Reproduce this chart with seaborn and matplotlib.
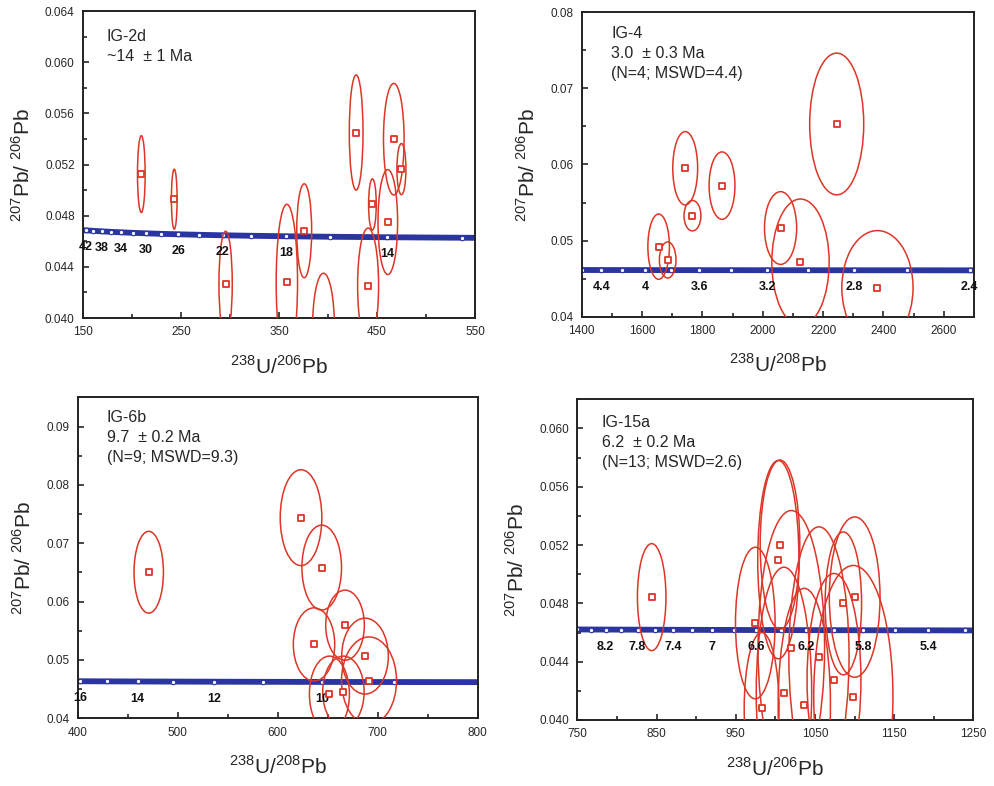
import numpy as np
import pandas as pd
import seaborn as sns
import matplotlib
matplotlib.use("Agg")
import matplotlib.pyplot as plt
from matplotlib.patches import Ellipse
from matplotlib.ticker import MultipleLocator, FormatStrFormatter

# ---------------- data ----------------
# IG-2d : spot centres, half widths (x) and half heights (y) of the 2-sigma ellipses
ig2d_x = [209.5, 243.1, 295.5, 358.0, 375.7, 395.4, 428.7, 440.9, 445.3, 461.0, 467.1, 474.9]
ig2d_y = [0.05125, 0.04929, 0.04268, 0.04279, 0.04682, 0.0392, 0.0545, 0.04253, 0.04888, 0.0475, 0.05398, 0.05164]
ig2d_hw = [3.9, 2.9, 6.8, 10.9, 7.6, 11.2, 7.0, 10.7, 3.9, 10.0, 10.5, 4.6]
ig2d_hh = [0.0030, 0.00234, 0.0041, 0.0061, 0.00367, 0.0043, 0.0045, 0.0045, 0.0020, 0.0041, 0.00436, 0.0020]
ig2d_conc_age = [44, 42, 40, 38, 36, 34, 32, 30, 28, 26, 24, 22, 20, 18, 16, 14, 12, 10]
ig2d_conc_x = [146.0, 153.0, 160.7, 169.1, 178.6, 189.1, 201.0, 214.4, 229.7, 247.4,
               268.1, 292.5, 321.8, 357.6, 402.4, 460.0, 536.7, 644.1]
ig2d_conc_y = [0.046889, 0.046851, 0.046813, 0.046774, 0.046736, 0.046698, 0.046659, 0.046621,
               0.046582, 0.046544, 0.046506, 0.046467, 0.046429, 0.046390, 0.046352, 0.046314,
               0.046275, 0.046237]
ig2d_labels = [42, 38, 34, 30, 26, 22, 18, 14]

# IG-4
ig4_x = [1655, 1685, 1743, 1767, 1865, 2059, 2125, 2245, 2380]
ig4_y = [0.0492, 0.04745, 0.0595, 0.05327, 0.05722, 0.05165, 0.04714, 0.06532, 0.04381]
ig4_hw = [35.7, 27.5, 41.2, 28.0, 42.8, 53.3, 95.0, 89.5, 118.0]
ig4_hh = [0.00429, 0.00237, 0.00482, 0.0020, 0.00443, 0.00478, 0.00832, 0.00931, 0.0075]
ig4_conc_age = [4.8, 4.6, 4.4, 4.2, 4.0, 3.8, 3.6, 3.4, 3.2, 3.0, 2.8, 2.6, 2.4, 2.2]
ig4_conc_x = [1342.5, 1400.9, 1464.6, 1534.3, 1611.1, 1695.9, 1790.2, 1895.5, 2014.0,
              2148.3, 2301.8, 2478.9, 2685.5, 2929.7]
ig4_conc_y = [0.046137, 0.046133, 0.046129, 0.046126, 0.046122, 0.046118, 0.046114,
              0.046110, 0.046106, 0.046103, 0.046099, 0.046095, 0.046091, 0.046087]
ig4_labels = [4.4, 4, 3.6, 3.2, 2.8, 2.4]

# IG-6b
ig6b_x = [471.0, 623.3, 644.0, 667.3, 636.3, 687.3, 691.3, 665.7, 651.7]
ig6b_y = [0.06503, 0.07438, 0.06583, 0.05596, 0.05266, 0.05066, 0.04644, 0.04456, 0.04416]
ig6b_hw = [14.7, 20.8, 19.8, 19.3, 20.7, 23.3, 27.5, 20.7, 20.0]
ig6b_hh = [0.00701, 0.00821, 0.00727, 0.0060, 0.00627, 0.0065, 0.0075, 0.0061, 0.0065]
ig6b_conc_age = [17, 16, 15, 14, 13, 12, 11, 10, 9, 8]
ig6b_conc_x = [378.7, 402.4, 429.3, 460.0, 495.4, 536.7, 585.5, 644.1, 715.8, 805.3]
ig6b_conc_y = [0.046371, 0.046352, 0.046333, 0.046314, 0.046294, 0.046275,
               0.046256, 0.046237, 0.046218, 0.046199]
ig6b_labels = [16, 14, 12, 10]

# IG-15a
ig15a_x = [843.9, 1005.9, 1003.8, 974.7, 1085.9, 1100.2, 1020.2, 1055.1, 1074.1,
           1010.9, 1098.5, 1036.6, 982.7]
ig15a_y = [0.04843, 0.05203, 0.05100, 0.04665, 0.04800, 0.04843, 0.04497, 0.04435,
           0.04275, 0.04188, 0.04160, 0.04103, 0.04080]
ig15a_hw = [18, 25, 26, 25, 23, 32, 42, 38, 34, 35, 50, 33, 22]
ig15a_hh = [0.00367, 0.0058, 0.0068, 0.0052, 0.0049, 0.0055, 0.0094, 0.0089, 0.0073,
            0.0086, 0.0090, 0.0080, 0.0052]
ig15a_conc_age = [8.6, 8.4, 8.2, 8.0, 7.8, 7.6, 7.4, 7.2, 7.0, 6.8, 6.6, 6.4, 6.2,
                  6.0, 5.8, 5.6, 5.4, 5.2, 5.0]
ig15a_conc_x = [749.1, 766.9, 785.6, 805.3, 826.0, 847.7, 870.6, 894.8, 920.4, 947.5,
                976.2, 1006.8, 1039.2, 1073.9, 1110.9, 1150.6, 1193.3, 1239.2, 1288.8]
ig15a_conc_y = [0.046210, 0.046206, 0.046202, 0.046199, 0.046195, 0.046191, 0.046187,
                0.046183, 0.046179, 0.046175, 0.046172, 0.046168, 0.046164, 0.046160,
                0.046156, 0.046152, 0.046149, 0.046145, 0.046141]
ig15a_labels = [8.2, 7.8, 7.4, 7, 6.6, 6.2, 5.8, 5.4]

RED = "#dd3526"
BLUE = "#2b35a0"

sns.set_style("ticks")
plt.rcParams["font.family"] = ["Liberation Sans", "DejaVu Sans"]
plt.rcParams["mathtext.fontset"] = "custom"
plt.rcParams["mathtext.rm"] = "Liberation Sans"


def draw_panel(ax, xs, ys, hws, hhs, c_age, c_x, c_y, labels,
               xlim, ylim, xmajor, xoffset, xminor, ymajor, yminor, yfmt,
               text, text_pos, xlabel):
    # error ellipses
    for cx, cy, hw, hh in zip(xs, ys, hws, hhs):
        ax.add_patch(Ellipse((cx, cy), 2 * hw, 2 * hh, fill=False,
                             edgecolor=RED, lw=1.1, zorder=3))

    # concordia
    conc = pd.DataFrame({"x": c_x, "y": c_y, "age": c_age})
    sns.lineplot(data=conc, x="x", y="y", ax=ax, color=BLUE, lw=4.2,
                 zorder=2, sort=False)
    ax.plot(conc["x"], conc["y"], ls="none", marker="o", ms=3.2,
            mfc="white", mec=BLUE, mew=0.8, zorder=2.5)
    for lab in labels:
        i = [round(a, 2) for a in c_age].index(round(float(lab), 2))
        ax.annotate(str(lab), (c_x[i], c_y[i]), xytext=(0, -8),
                    textcoords="offset points", ha="center", va="top",
                    fontsize=9, fontweight="bold", color="#111111", zorder=4)

    # spot centres
    spots = pd.DataFrame({"x": xs, "y": ys})
    sns.scatterplot(data=spots, x="x", y="y", ax=ax, marker="s", s=24,
                    facecolor="white", edgecolor=RED, linewidth=1.3, zorder=5)

    ax.set_xlim(*xlim)
    ax.set_ylim(*ylim)
    ax.xaxis.set_major_locator(MultipleLocator(xmajor, offset=xoffset))
    ax.xaxis.set_minor_locator(MultipleLocator(xminor))
    ax.yaxis.set_major_locator(MultipleLocator(ymajor))
    ax.yaxis.set_minor_locator(MultipleLocator(yminor))
    ax.yaxis.set_major_formatter(FormatStrFormatter(yfmt))
    ax.tick_params(which="both", direction="in", top=False, right=False,
                   labelsize=8.5, pad=6)
    ax.tick_params(which="major", length=4, width=1.2)
    ax.tick_params(which="minor", length=3, width=1.2)
    for sp in ax.spines.values():
        sp.set_visible(True)
        sp.set_linewidth(1.4)
        sp.set_color("#222222")

    ax.text(text_pos[0], text_pos[1], text, transform=ax.transAxes,
            ha="left", va="top", fontsize=11.5, linespacing=1.4)
    ax.set_xlabel(xlabel, fontsize=15, labelpad=12)
    ax.set_ylabel(r"$^{207}$Pb/ $^{206}$Pb", fontsize=15, labelpad=8)


fig = plt.figure(figsize=(9.94, 7.86), dpi=100)
ax1 = fig.add_axes([0.0835, 0.5954, 0.3944, 0.3906])
ax2 = fig.add_axes([0.5852, 0.5971, 0.3947, 0.3873])
ax3 = fig.add_axes([0.0782, 0.0861, 0.4024, 0.4084])
ax4 = fig.add_axes([0.5808, 0.0840, 0.3984, 0.4080])

draw_panel(ax1, ig2d_x, ig2d_y, ig2d_hw, ig2d_hh, ig2d_conc_age, ig2d_conc_x,
           ig2d_conc_y, ig2d_labels, (150, 550), (0.040, 0.064), 100, 50, 50,
           0.004, 0.002, "%.3f", "IG-2d\n~14  \u00b1 1 Ma", (0.06, 0.94),
           r"$^{238}$U/$^{206}$Pb")
draw_panel(ax2, ig4_x, ig4_y, ig4_hw, ig4_hh, ig4_conc_age, ig4_conc_x,
           ig4_conc_y, ig4_labels, (1400, 2700), (0.04, 0.08), 200, 0, 100,
           0.01, 0.005, "%.2f", "IG-4\n3.0  \u00b1 0.3 Ma\n(N=4; MSWD=4.4)",
           (0.075, 0.955), r"$^{238}$U/$^{208}$Pb")
draw_panel(ax3, ig6b_x, ig6b_y, ig6b_hw, ig6b_hh, ig6b_conc_age, ig6b_conc_x,
           ig6b_conc_y, ig6b_labels, (400, 800), (0.04, 0.095), 100, 0, 50,
           0.01, 0.005, "%.2f", "IG-6b\n9.7  \u00b1 0.2 Ma\n(N=9; MSWD=9.3)",
           (0.072, 0.96), r"$^{238}$U/$^{208}$Pb")
draw_panel(ax4, ig15a_x, ig15a_y, ig15a_hw, ig15a_hh, ig15a_conc_age, ig15a_conc_x,
           ig15a_conc_y, ig15a_labels, (750, 1250), (0.040, 0.062), 100, 50, 50,
           0.004, 0.002, "%.3f", "IG-15a\n6.2  \u00b1 0.2 Ma\n(N=13; MSWD=2.6)",
           (0.062, 0.95), r"$^{238}$U/$^{206}$Pb")

fig.savefig("out.png", dpi=100)
